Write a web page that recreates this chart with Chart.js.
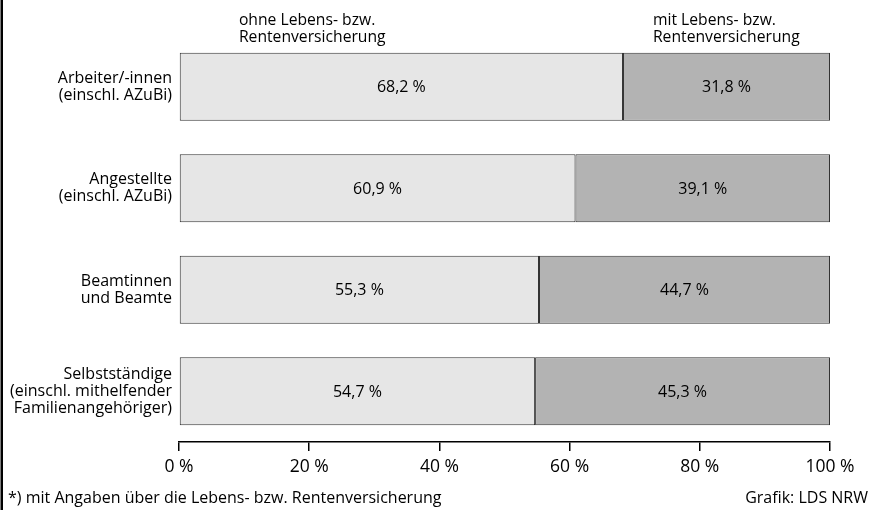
<!DOCTYPE html>
<html>
<head>
<meta charset="utf-8">
<script src="https://cdn.jsdelivr.net/npm/chart.js@4/dist/chart.umd.min.js"></script>
<style>
html,body{margin:0;padding:0;background:#fff;}
#wrap{width:871px;height:510px;position:relative;}
</style>
</head>
<body>
<div id="wrap"><canvas id="c" width="871" height="510"></canvas></div>
<script>
const categories = [
  ["Arbeiter/-innen", "(einschl. AZuBi)"],
  ["Angestellte", "(einschl. AZuBi)"],
  ["Beamtinnen", "und Beamte"],
  ["Selbstständige", "(einschl. mithelfender", "Familienangehöriger)"]
];
const ohne = [68.2, 60.9, 55.3, 54.7];
const mit = [31.8, 39.1, 44.7, 45.3];
const xTicks = [0, 20, 40, 60, 80, 100];
const seriesNames = [["ohne Lebens- bzw.", "Rentenversicherung"], ["mit Lebens- bzw.", "Rentenversicherung"]];
const footnote = "*) mit Angaben über die Lebens- bzw. Rentenversicherung";
const source = "Grafik: LDS NRW";

const FONT = "'Open Sans', 'DejaVu Sans', sans-serif";
const fmt = v => v.toFixed(1).replace('.', ',') + ' %';

const extras = {
  id: 'extras',
  afterDatasetsDraw(chart) {
    const ctx = chart.ctx;
    ctx.save();
    ctx.fillStyle = '#000';
    ctx.font = '16px ' + FONT;
    ctx.textAlign = 'center';
    ctx.textBaseline = 'middle';
    chart.data.datasets.forEach((ds, di) => {
      chart.getDatasetMeta(di).data.forEach((bar, i) => {
        const x = (bar.x + bar.base) / 2;
        ctx.fillText(fmt(ds.data[i]), x, bar.y + 1);
      });
    });
    ctx.restore();
  },
  afterDraw(chart) {
    const ctx = chart.ctx;
    const xs = chart.scales.x;
    ctx.save();
    ctx.fillStyle = '#000';
    ctx.font = '15.7px ' + FONT;
    ctx.textBaseline = 'alphabetic';
    ctx.textAlign = 'left';
    const hx = [xs.getPixelForValue(9.2), xs.getPixelForValue(72.8)];
    seriesNames.forEach((lines, k) => {
      lines.forEach((t, j) => ctx.fillText(t, hx[k], 25 + j * 17));
    });
    ctx.font = '16px ' + FONT;
    ctx.fillText(footnote, 8, 503);
    ctx.textAlign = 'right';
    ctx.fillText(source, 868, 503);
    ctx.fillRect(0.5, 0, 2.5, 510);
    ctx.restore();
  }
};

new Chart(document.getElementById('c'), {
  type: 'bar',
  data: {
    labels: categories,
    datasets: [
      { label: 'ohne', data: ohne, backgroundColor: '#e6e6e6', borderColor: '#333', borderWidth: 1, borderSkipped: false, barPercentage: 0.67, categoryPercentage: 1 },
      { label: 'mit', data: mit, backgroundColor: '#b3b3b3', borderColor: '#333', borderWidth: 1, borderSkipped: false, barPercentage: 0.67, categoryPercentage: 1 }
    ]
  },
  options: {
    indexAxis: 'y',
    responsive: false,
    animation: false,
    devicePixelRatio: 1,
    layout: { padding: { top: 36, right: 41, left: 0, bottom: 0 } },
    plugins: { legend: { display: false }, tooltip: { enabled: false } },
    scales: {
      x: {
        stacked: true,
        min: 0, max: 100,
        afterBuildTicks: s => { s.ticks = xTicks.map(v => ({ value: v })); },
        afterFit: s => { s.height = 68; },
        border: { display: true, color: '#000', width: 1.5 },
        grid: { drawOnChartArea: false, drawTicks: true, tickLength: 9, color: '#000', lineWidth: 1.5 },
        ticks: { color: '#000', padding: 6, font: { size: 17.5, family: FONT }, callback: v => v + ' %', maxRotation: 0 }
      },
      y: {
        stacked: true,
        afterFit: s => { s.width = 179; },
        border: { display: false },
        grid: { display: false, drawTicks: false },
        ticks: { color: '#000', padding: 7, font: { size: 16, family: FONT, lineHeight: '17px' } }
      }
    }
  },
  plugins: [extras]
});
</script>
</body>
</html>
